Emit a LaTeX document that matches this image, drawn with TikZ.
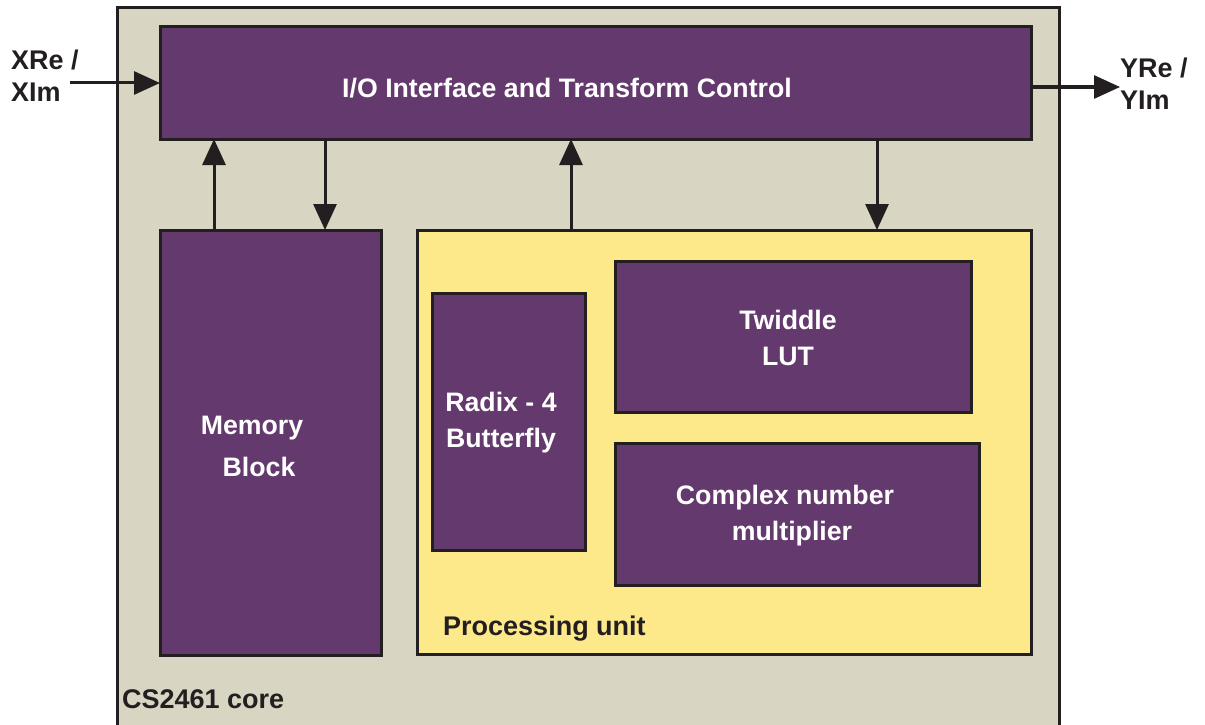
\documentclass[tikz,border=0pt]{standalone}
\usepackage{fontspec}
\setmainfont{Liberation Sans}
\usetikzlibrary{arrows.meta}
\definecolor{pur}{RGB}{100,58,110}
\definecolor{core}{RGB}{216,213,194}
\definecolor{pyel}{RGB}{253,233,138}
\definecolor{ink}{RGB}{35,31,32}
\tikzset{
  box/.style={draw=ink, line width=3pt, outer sep=0pt, inner sep=0pt, anchor=north west},
  pbox/.style={box, fill=pur},
  wtxt/.style={text=white, font=\bfseries\fontsize{26.7}{36}\selectfont, align=center, inner sep=0pt},
  btxt/.style={text=ink, font=\bfseries\fontsize{27}{32}\selectfont, inner sep=0pt},
  arr/.style={draw=ink, line width=3pt, -{Triangle[length=26pt,width=23pt]}}
}
\begin{document}
\begin{tikzpicture}[x=1pt,y=-1pt]
\useasboundingbox (0,0) rectangle (1205,725);
% core
\fill[core] (117,740) -- (117,8) -- (1059,8) -- (1059,740) -- cycle;
\draw[ink, line width=3pt] (117,740) -- (117,8) -- (1059,8) -- (1059,740);
% blocks
\node[pbox, minimum width=871pt, minimum height=112pt] (io) at (160,27) {};
\node[pbox, minimum width=221pt, minimum height=425pt] (mem) at (160,230) {};
\node[box, fill=pyel, minimum width=614pt, minimum height=424pt] (pu) at (417,230) {};
\node[pbox, minimum width=153pt, minimum height=257pt] (rad) at (432,293) {};
\node[pbox, minimum width=356pt, minimum height=151pt] (tw) at (615,261) {};
\node[pbox, minimum width=364pt, minimum height=142pt] (cm) at (615,443) {};
% texts
\node[wtxt] (iot) at (567,88) {I/O Interface and Transform Control};
\node[wtxt, font=\bfseries\fontsize{26.7}{42}\selectfont] (memt) at (252,446) {Memory\\\hspace*{14pt}Block};
\node[wtxt] (radt) at (501,423) {Radix - 4\\Butterfly};
\node[wtxt] (twt) at (788,338) {Twiddle\\LUT};
\node[wtxt] (cmt) at (785,516) {Complex number\\\hspace*{14pt}multiplier};
\node[btxt, anchor=west] (put) at (443,629) {Processing unit};
\node[btxt, anchor=west] (coret) at (122,699) {CS2461 core};
\node[btxt, anchor=west, align=left] (xin) at (11,76) {XRe /\\XIm};
\node[btxt, anchor=west, align=left] (yout) at (1120,84) {YRe /\\YIm};
% connectors
\coordinate (xs) at (70,83);
\coordinate (ye) at (1120,87);
\draw[arr] (xs) -- (xs -| io.west);
\draw[arr] (ye -| io.east) -- (ye);
\draw[arr] ([xshift=54pt]mem.north west) -- ([xshift=54pt]io.south west);
\draw[arr] ([xshift=165pt]io.south west) -- ([xshift=165pt]mem.north west);
\draw[arr] ([xshift=154pt]pu.north west) -- ([xshift=411pt]io.south west);
\draw[arr] ([xshift=717pt]io.south west) -- ([xshift=460pt]pu.north west);
\end{tikzpicture}
\end{document}
